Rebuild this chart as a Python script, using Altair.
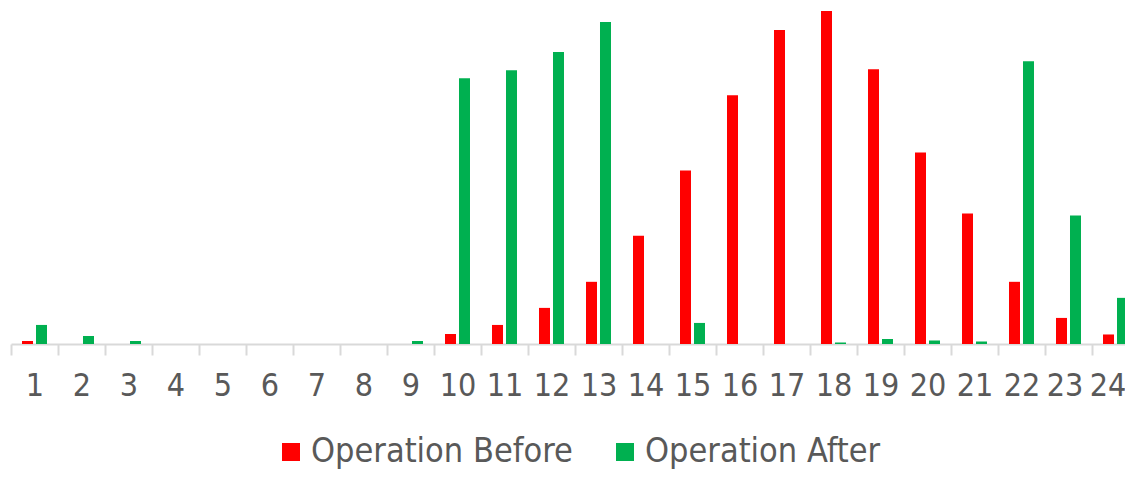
import altair as alt
import pandas as pd

hours = list(range(1, 25))
series_names = ["Operation Before", "Operation After"]
before = [3, 0, 0, 0, 0, 0, 0, 0, 0, 10, 19, 36, 62, 108, 173, 248, 313, 332, 274, 191, 130, 62, 26, 9.5]
after = [19, 8, 3, 0, 0, 0, 0, 0, 3, 265, 273, 291, 321, 0, 21, 0, 0, 1.5, 5, 3.5, 2.5, 282, 128, 46]
colors = ["#ff0000", "#00b050"]

rows = []
for h, b, a in zip(hours, before, after):
    rows.append({"hour": h, "series": series_names[0], "value": b})
    rows.append({"hour": h, "series": series_names[1], "value": a})
df = pd.DataFrame(rows)

FONT = "DejaVu Sans Condensed"

chart = alt.Chart(df).mark_bar().encode(
    x=alt.X(
        "hour:O",
        scale=alt.Scale(range=[0, 1128], paddingInner=0, paddingOuter=0),
        axis=alt.Axis(
            title=None, labelAngle=0, labelFontSize=32, labelFont=FONT,
            labelColor="#595959", domainColor="#d9d9d9", domainWidth=2,
            tickColor="#d9d9d9", tickWidth=2, tickSize=11, tickBand="extent",
            labelPadding=15, grid=False,
            labelOffset={"expr": "datum.value == 24 ? -8 : (datum.value == 23 ? -4 : 0)"},
        ),
    ),
    xOffset=alt.XOffset(
        "series:N", sort=series_names,
        scale=alt.Scale(paddingInner=0.214, paddingOuter=0.786),
    ),
    y=alt.Y("value:Q", scale=alt.Scale(domain=[0, 332]), axis=None),
    color=alt.Color(
        "series:N",
        sort=series_names,
        scale=alt.Scale(domain=series_names, range=colors),
        legend=alt.Legend(
            title=None, orient="none", legendX=263, legendY=424,
            direction="horizontal", symbolType="square", symbolSize=324,
            symbolStrokeWidth=0, labelFontSize=34, labelFont=FONT,
            labelColor="#595959", labelOffset=3, columnPadding=35,
            labelLimit=400,
        ),
    ),
).properties(
    width=1114,
    height=333,
    padding={"left": 3, "top": 3, "right": 0, "bottom": 125},
    autosize=alt.AutoSizeParams(type="none"),
).configure_view(stroke=None)

chart.save("out.html", embed_options={"renderer": "svg", "actions": False})
